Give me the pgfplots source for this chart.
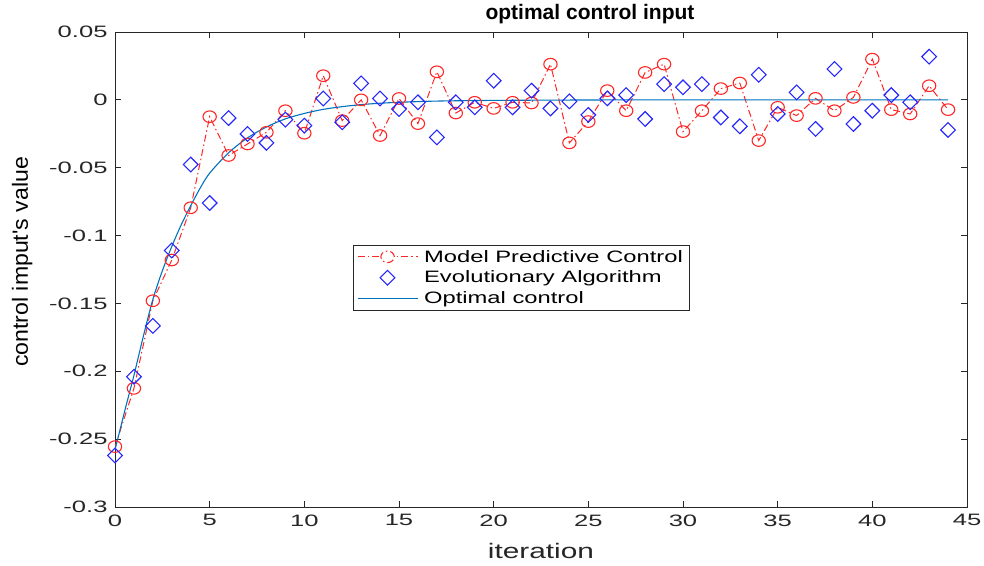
\documentclass[border=0pt]{standalone}
\usepackage{pgfplots}
\pgfplotsset{compat=1.18}
\usepackage{fontspec}
\setmainfont{Liberation Sans}
\newfontfamily\tickfont{Liberation Sans}[FakeStretch=1.55]
\newfontfamily\legfont{Liberation Sans}[FakeStretch=1.44]
\newfontfamily\xlabfont{Liberation Sans}[FakeStretch=1.42]
\newfontfamily\ylabfont{Liberation Sans}[FakeStretch=1.05]
\definecolor{mgray}{rgb}{0.15,0.15,0.15}
\definecolor{mblue}{rgb}{0,0.447,0.741}
\definecolor{mred}{rgb}{1,0.15,0.15}
\definecolor{bblue}{rgb}{0.15,0.15,1}

\pgfplotsset{
  mpcleg/.style={legend image code/.code={%
    \draw[mred, line width=1pt, dash pattern=on 7bp off 3bp on 1.5bp off 3bp] (0bp,0bp) -- (60bp,0bp);
    \draw[mred, line width=1.1pt, fill=white] (30bp,0bp) ellipse (6.7bp and 5.8bp);}},
  ealeg/.style={legend image code/.code={%
    \draw[bblue, line width=1.1pt] (30bp,7.4bp) -- (37.4bp,0bp) -- (30bp,-7.4bp) -- (22.6bp,0bp) -- cycle;}},
  optleg/.style={legend image code/.code={%
    \draw[mblue, line width=1.1pt] (0bp,0bp) -- (60bp,0bp);}},
}

\pgfplotstableread{
x y
0 -0.2555
1 -0.2126
2 -0.148
3 -0.118
4 -0.0795
5 -0.0124
6 -0.041
7 -0.0325
8 -0.0239
9 -0.0080
10 -0.0246
11 0.0178
12 -0.0153
13 0.0
14 -0.0263
15 0.001
16 -0.0175
17 0.0207
18 -0.0097
19 -0.0018
20 -0.0063
21 -0.0018
22 -0.0023
23 0.0263
24 -0.0317
25 -0.016
26 0.0068
27 -0.008
28 0.0202
29 0.0263
30 -0.0234
31 -0.008
32 0.0083
33 0.0124
34 -0.030
35 -0.0055
36 -0.0116
37 0.0011
38 -0.008
39 0.0018
40 0.030
41 -0.0072
42 -0.0104
43 0.0104
44 -0.0072
}\mpc

\pgfplotstableread{
x y
0 -0.262
1 -0.204
2 -0.1665
3 -0.111
4 -0.0477
5 -0.076
6 -0.0134
7 -0.0251
8 -0.0317
9 -0.0146
10 -0.019
11 0.001
12 -0.0165
13 0.0121
14 0.001
15 -0.0068
16 -0.0018
17 -0.0276
18 -0.0018
19 -0.0055
20 0.0141
21 -0.0055
22 0.0068
23 -0.0063
24 -0.0011
25 -0.0111
26 0.0011
27 0.0035
28 -0.0141
29 0.0116
30 0.0092
31 0.0116
32 -0.013
33 -0.0195
34 0.0185
35 -0.0104
36 0.0055
37 -0.0214
38 0.0227
39 -0.0178
40 -0.008
41 0.0035
42 -0.0018
43 0.0318
44 -0.0222
}\ea

\pgfplotstableread{
x y
0 -0.258
0.5 -0.230
1 -0.203
1.5 -0.174
2 -0.147
2.5 -0.126
3 -0.108
3.5 -0.092
4 -0.078
4.5 -0.065
5 -0.054
6 -0.039
7 -0.028
8 -0.020
9 -0.014
10 -0.010
11 -0.007
12 -0.005
13 -0.0035
14 -0.0025
15 -0.0018
17 -0.0009
20 -0.0004
25 -0.0001
30 0
44 0
}\opt

\begin{document}
\begin{tikzpicture}
\useasboundingbox (-115bp,-59bp) rectangle (869bp,507bp);
\begin{axis}[
  at={(0,0)}, anchor=south west,
  scale only axis,
  width=852bp, height=475bp,
  xmin=0, xmax=45, ymin=-0.3, ymax=0.05,
  xtick={0,5,...,45},
  ytick={-0.3,-0.25,-0.2,-0.15,-0.1,-0.05,0,0.05},
  yticklabels={-0.3,-0.25,-0.2,-0.15,-0.1,-0.05,0,0.05},
  scaled y ticks=false,
  tick align=inside,
  major tick length=6bp,
  axis line style={mgray, line width=0.8pt},
  every tick/.style={mgray, line width=0.8pt},
  /pgf/number format/assume math mode=true,
  tick label style={font=\tickfont\fontsize{16.5bp}{18bp}\selectfont, text=mgray},
  xticklabel style={yshift=-4bp},
  yticklabel style={xshift=-4bp},
  title={\bfseries optimal control input},
  title style={font=\fontsize{21bp}{24bp}\selectfont, at={(axis description cs:0.5575,1.025)}, anchor=center},
  xlabel={iteration},
  xlabel style={font=\xlabfont\fontsize{21bp}{24bp}\selectfont, text=mgray, at={(axis description cs:0.5,-0.093)}, anchor=center},
  ylabel={control imput's value},
  ylabel style={font=\ylabfont\fontsize{22bp}{24bp}\selectfont, text=black, at={(axis description cs:-0.109,0.516)}, anchor=center},
  legend style={at={(0.279,0.552)}, anchor=north west,
    font=\legfont\fontsize{16.5bp}{18bp}\selectfont,
    draw=mgray, line width=0.6pt, inner xsep=4bp, inner ysep=3bp, row sep=3.5bp,
    cells={anchor=west},
    /tikz/every odd column/.append style={column sep=4bp}},
  legend cell align=left,
]
\addplot[mred, dash pattern=on 7bp off 3bp on 1.5bp off 3bp, line width=1pt, mark=o,
  mark size=5.8bp, mark options={solid, xscale=1.15, line width=1.1pt}, mpcleg]
  table[x=x,y=y]{\mpc};
\addlegendentry{Model Predictive Control}
\addplot[only marks, bblue, mark=square, mark size=5.2bp,
  mark options={rotate=45, line width=1.1pt}, ealeg]
  table[x=x,y=y]{\ea};
\addlegendentry{Evolutionary Algorithm}
\addplot[mblue, line width=1.1pt, smooth, no marks, optleg]
  table[x=x,y=y]{\opt};
\addlegendentry{Optimal control}
\end{axis}
\end{tikzpicture}
\end{document}
